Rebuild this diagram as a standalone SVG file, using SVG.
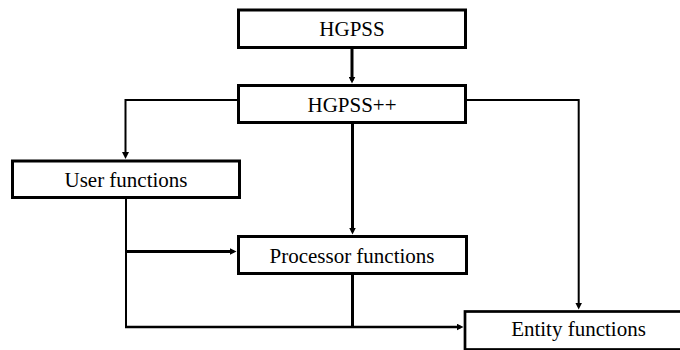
<svg xmlns="http://www.w3.org/2000/svg" width="680" height="350" viewBox="0 0 680 350">
  <style>
    .box { fill: #fff; stroke: #000; stroke-width: 3; }
    .label { font-family: 'Liberation Serif', 'Times New Roman', Times, 'DejaVu Serif', serif; font-size: 21px; fill: #000; text-anchor: middle; }
    .wire { fill: none; stroke: #000; stroke-width: 2; }
    .bold { fill: none; stroke: #000; stroke-width: 3; }
  </style>
  <defs>
    <marker id="head" viewBox="0 0 7 7" refX="4" refY="3.5" markerWidth="7" markerHeight="7" markerUnits="userSpaceOnUse" orient="auto">
      <path d="M0,0 L7,3.5 L0,7 z" fill="#000"/>
    </marker>
  </defs>
  <rect width="680" height="350" fill="#fff"/>

  <g id="connectors">
    <path class="bold" d="M352,49 V80.5" marker-end="url(#head)"/>
    <path class="wire" d="M237,100 H125.5 V156" marker-end="url(#head)"/>
    <path class="bold" d="M352.5,124 V231.5" marker-end="url(#head)"/>
    <path class="wire" d="M467,100 H578.7 V306.5" marker-end="url(#head)"/>
    <path class="wire" d="M126,199 V327"/>
    <path class="bold" d="M126,251.5 H233.5" marker-end="url(#head)"/>
    <path class="bold" d="M352.5,275 V327"/>
    <path class="wire" style="stroke-width:2.3" d="M125,327 H460.5" marker-end="url(#head)"/>
  </g>

  <g id="hgpss">
    <rect class="box" x="238.5" y="10" width="227" height="37.5"/>
    <text class="label" font-family="Liberation Serif, serif" x="352" y="36">HGPSS</text>
  </g>
  <g id="hgpss-pp">
    <rect class="box" x="238.5" y="85.5" width="227" height="37"/>
    <text class="label" font-family="Liberation Serif, serif" x="352" y="112">HGPSS++</text>
  </g>
  <g id="user-functions">
    <rect class="box" x="12.5" y="161" width="227" height="36.5"/>
    <text class="label" font-family="Liberation Serif, serif" x="126" y="187">User functions</text>
  </g>
  <g id="processor-functions">
    <rect class="box" x="238.5" y="236.5" width="228" height="37"/>
    <text class="label" font-family="Liberation Serif, serif" x="352" y="263">Processor functions</text>
  </g>
  <g id="entity-functions">
    <rect class="box" style="stroke-width:2.7" x="465" y="311.5" width="229" height="38"/>
    <text class="label" font-family="Liberation Serif, serif" x="578.5" y="336">Entity functions</text>
  </g>
</svg>
